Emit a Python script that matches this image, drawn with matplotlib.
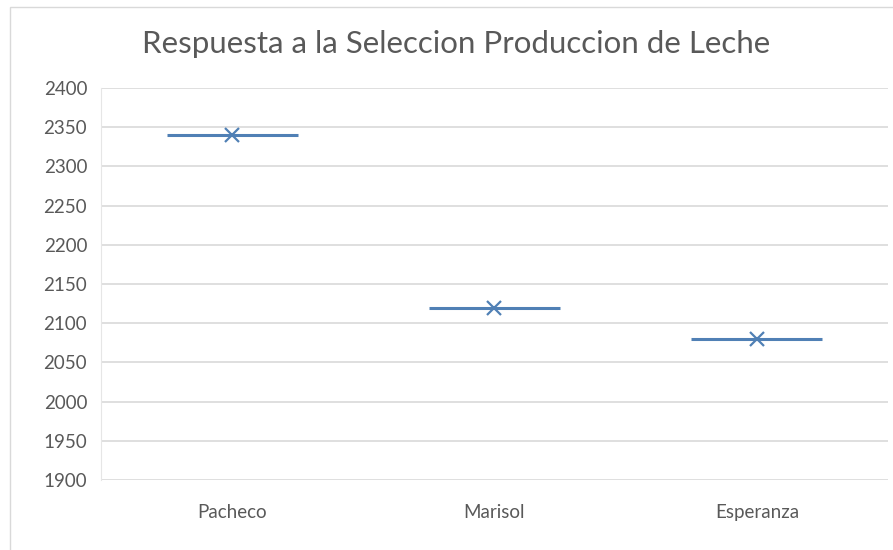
import numpy as np
import matplotlib.pyplot as plt
from matplotlib.patches import Rectangle

# Produccion de leche por seleccion
lineas = ['Pacheco', 'Marisol', 'Esperanza']
produccion = [2340, 2119, 2080]

color_serie = '#5080B5'
color_texto = '#595959'

plt.rcParams['font.family'] = ['Lato', 'DejaVu Sans']

fig = plt.figure(figsize=(8.93, 5.5), dpi=100)
ax = fig.add_axes([0.1131, 0.1273, 0.8813, 0.7127])

# marco del grafico
fig.patches.append(Rectangle((10 / 893, -0.1), 1.2, 1.1 - 7 / 550, transform=fig.transFigure,
                             fill=False, edgecolor='#D9D9D9', linewidth=1))

x = np.arange(len(lineas))
ax.hlines(produccion, x - 0.25, x + 0.25, color=color_serie, linewidth=2.2, zorder=3)
ax.plot(x, produccion, linestyle='none', marker='x', markersize=10,
        markeredgewidth=1.6, color=color_serie, zorder=4)

ax.set_xlim(-0.5, 2.5)
ax.set_ylim(1900, 2400)
ax.set_yticks(np.arange(1900, 2401, 50))
ax.set_xticks(x)
ax.set_xticklabels(lineas)
ax.grid(axis='y', color='#D9D9D9', linewidth=1.2)
ax.set_axisbelow(True)
for s in ['top', 'right', 'bottom']:
    ax.spines[s].set_visible(False)
ax.spines['left'].set_color('#E6E6E6')
ax.tick_params(length=0, labelsize=13.5, colors=color_texto)
ax.tick_params(axis='x', pad=17)
ax.tick_params(axis='y', pad=10)

fig.text(0.511, 0.92, 'Respuesta a la Seleccion Produccion de Leche', ha='center', va='center',
         fontsize=22.5, color=color_texto)

fig.savefig('out.png', dpi=100)
